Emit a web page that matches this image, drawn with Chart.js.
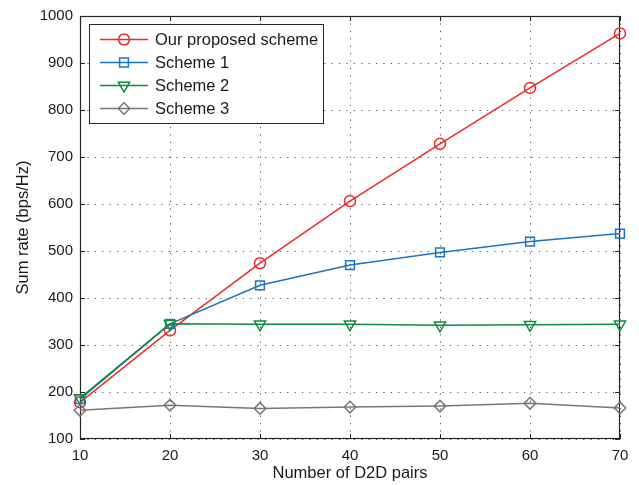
<!DOCTYPE html>
<html>
<head>
<meta charset="utf-8">
<script src="https://cdn.jsdelivr.net/npm/chart.js@4/dist/chart.umd.min.js"></script>
<style>
  html, body { margin: 0; padding: 0; background: #fff; }
  #wrap { width: 639px; height: 485px; }
</style>
</head>
<body>
<div id="wrap"><canvas id="c" width="639" height="485"></canvas></div>
<script>
// Number of D2D pairs
const pairs = [10, 20, 30, 40, 50, 60, 70];
// Sum rate (bps/Hz) for each scheme
const proposed = [178, 331, 474, 606, 728, 847, 963];
const scheme1  = [185, 345, 427, 470, 497, 520, 537];
const scheme2  = [187, 345, 344, 344, 342, 343, 344];
const scheme3  = [161, 172, 165, 168, 170, 176, 166];
const seriesNames = ['Our proposed scheme', 'Scheme 1', 'Scheme 2', 'Scheme 3'];
const yTicks = [100, 200, 300, 400, 500, 600, 700, 800, 900, 1000];

const FONT = 'Liberation Sans, Arial, Helvetica, sans-serif';

// later series are painted over earlier ones
function series(label, data, color, style, radius, rotation, order) {
  return {
    label,
    data: data.map((v, i) => ({ x: pairs[i], y: v })),
    order,
    borderColor: color,
    backgroundColor: 'rgba(0,0,0,0)',
    borderWidth: 1.5,
    pointStyle: style,
    pointRadius: radius,
    pointHoverRadius: radius,
    pointRotation: rotation || 0,
    pointBorderColor: color,
    pointBackgroundColor: 'rgba(0,0,0,0)',
    pointBorderWidth: 1.5,
    tension: 0,
    clip: false
  };
}

// Marker used in the legend box
function drawMarker(ctx, style, x, y, r, rotation) {
  ctx.beginPath();
  if (style === 'circle') {
    ctx.arc(x, y, r, 0, Math.PI * 2);
  } else if (style === 'rect') {
    const s = r * Math.SQRT1_2;
    ctx.rect(x - s, y - s, 2 * s, 2 * s);
  } else if (style === 'rectRot') {
    ctx.moveTo(x, y - r); ctx.lineTo(x + r, y); ctx.lineTo(x, y + r); ctx.lineTo(x - r, y); ctx.closePath();
  } else if (style === 'triangle') {
    const a = (rotation || 0) * Math.PI / 180;
    for (let k = 0; k < 3; k++) {
      const t = a - Math.PI / 2 + k * 2 * Math.PI / 3;
      const px = x + Math.cos(t) * r, py = y + Math.sin(t) * r;
      k ? ctx.lineTo(px, py) : ctx.moveTo(px, py);
    }
    ctx.closePath();
  }
  ctx.stroke();
}

// Axes box and inward tick marks, drawn under the data lines
const framePlugin = {
  id: 'frame',
  beforeDatasetsDraw(chart) {
    const { ctx, chartArea: a, scales } = chart;
    ctx.save();
    ctx.strokeStyle = '#262626';
    ctx.lineWidth = 1.2;
    ctx.strokeRect(a.left + 0.5, a.top + 0.5, a.right - a.left - 1, a.bottom - a.top - 1);
    const L = 5;
    ctx.lineWidth = 1;
    ctx.beginPath();
    pairs.forEach(v => {
      const px = Math.round(scales.x.getPixelForValue(v)) + 0.5;
      ctx.moveTo(px, a.bottom); ctx.lineTo(px, a.bottom - L);
      ctx.moveTo(px, a.top); ctx.lineTo(px, a.top + L);
    });
    yTicks.forEach(v => {
      const py = Math.round(scales.y.getPixelForValue(v)) + 0.5;
      ctx.moveTo(a.left, py); ctx.lineTo(a.left + L, py);
      ctx.moveTo(a.right, py); ctx.lineTo(a.right - L, py);
    });
    ctx.stroke();
    ctx.restore();
  },
  // legend box inside the plot, upper left
  afterDraw(chart) {
    const { ctx } = chart;
    ctx.save();
    const bx = 89.5, by = 24.5, bw = 234, bh = 99;
    ctx.fillStyle = '#fff';
    ctx.fillRect(bx, by, bw, bh);
    ctx.strokeStyle = '#262626';
    ctx.lineWidth = 1;
    ctx.strokeRect(bx, by, bw, bh);
    ctx.font = '16.5px ' + FONT;
    ctx.textBaseline = 'middle';
    chart.data.datasets.forEach((ds, i) => {
      const yy = 39.5 + i * 23;
      ctx.strokeStyle = ds.borderColor;
      ctx.lineWidth = 1.5;
      ctx.beginPath(); ctx.moveTo(100, yy); ctx.lineTo(148, yy); ctx.stroke();
      drawMarker(ctx, ds.pointStyle, 124, yy, ds.pointRadius, ds.pointRotation);
      ctx.fillStyle = '#1a1a1a';
      ctx.fillText(ds.label, 155, yy + 1);
    });
    ctx.restore();
  }
};

const gridDots = { display: false, dash: [1.2, 6.2] };

new Chart(document.getElementById('c'), {
  type: 'line',
  data: {
    datasets: [
      series(seriesNames[0], proposed, '#ee2a2a', 'circle', 5.5, 0, 3),
      series(seriesNames[1], scheme1, '#1c74c4', 'rect', 6.2, 0, 2),
      series(seriesNames[2], scheme2, '#128a3e', 'triangle', 6.5, 180, 1),
      series(seriesNames[3], scheme3, '#777777', 'rectRot', 5.8, 0, 0)
    ]
  },
  options: {
    responsive: false,
    animation: false,
    events: [],
    layout: { padding: { left: 0, right: 19, top: 14, bottom: 0 } },
    plugins: { legend: { display: false }, tooltip: { enabled: false } },
    scales: {
      x: {
        type: 'linear',
        min: 10, max: 70,
        afterFit(s) { s.height = 46; },
        afterBuildTicks(s) { s.ticks = pairs.map(v => ({ value: v })); },
        border: gridDots,
        grid: { color: '#555555', lineWidth: 1, drawTicks: false },
        ticks: { color: '#1a1a1a', font: { family: FONT, size: 15 }, padding: 8, maxRotation: 0, callback: v => String(v) },
        title: { display: true, text: 'Number of D2D pairs', color: '#1a1a1a', font: { family: FONT, size: 16.5 }, padding: { top: 0, bottom: 2 } }
      },
      y: {
        type: 'linear',
        min: 100, max: 1000,
        afterFit(s) { s.width = 80; },
        afterBuildTicks(s) { s.ticks = yTicks.map(v => ({ value: v })); },
        border: gridDots,
        grid: { color: '#555555', lineWidth: 1, drawTicks: false },
        ticks: { color: '#1a1a1a', font: { family: FONT, size: 15 }, padding: 7, callback: v => String(v) },
        title: { display: true, text: 'Sum rate (bps/Hz)', color: '#1a1a1a', font: { family: FONT, size: 16.5 }, padding: { top: 14, bottom: 0 } }
      }
    }
  },
  plugins: [framePlugin]
});
</script>
</body>
</html>
